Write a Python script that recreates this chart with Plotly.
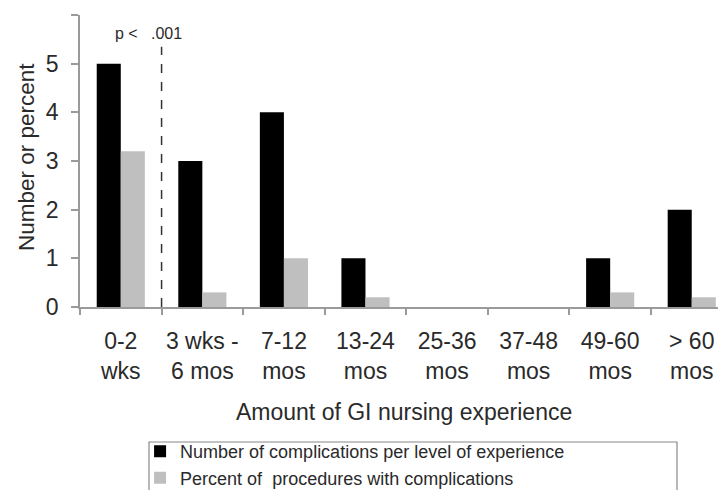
import plotly.graph_objects as go

categories = ["0-2<br>wks", "3 wks -<br>6 mos", "7-12<br>mos", "13-24<br>mos",
              "25-36<br>mos", "37-48<br>mos", "49-60<br>mos", "> 60<br>mos"]
complications = [5, 3, 4, 1, 0, 0, 1, 2]
percent_with_complications = [3.2, 0.3, 1.0, 0.2, 0, 0, 0.3, 0.2]
series_names = ["Number of complications per level of experience",
                "Percent of  procedures with complications"]
y_ticks = [0, 1, 2, 3, 4, 5, 6]

FONT = "Liberation Sans, Arial, sans-serif"
TXT = "#2a2a2a"
AX = "#9a9a9a"

# page body has an 8px default margin, so the figure is sized/offset to fill the window
fig = go.Figure()
fig.add_trace(go.Bar(x=categories, y=complications, name=series_names[0],
                     marker=dict(color="#000000", line=dict(width=0))))
fig.add_trace(go.Bar(x=categories, y=percent_with_complications, name=series_names[1],
                     marker=dict(color="#bfbfbf", line=dict(width=0))))

fig.update_layout(
    width=718, height=482,
    margin=dict(l=72, r=0, t=7, b=183, autoexpand=False),
    paper_bgcolor="white", plot_bgcolor="white",
    barmode="group", bargap=0.41, bargroupgap=0,
    font=dict(family=FONT, color=TXT),
    showlegend=True,
    legend=dict(x=0.093, y=-0.432, xanchor="left", yanchor="top",
                font=dict(size=18, color=TXT), bgcolor="rgba(0,0,0,0)",
                itemwidth=30, tracegroupgap=0, traceorder="normal"),
    xaxis=dict(type="category", range=[-0.5, 7.42], tickson="boundaries",
               showline=True, linecolor=AX, linewidth=1.5,
               ticks="outside", ticklen=6, tickcolor=AX, tickwidth=1.5,
               tickangle=0,
               tickfont=dict(size=23, color=TXT), showgrid=False, zeroline=False,
               ticklabelstandoff=13),
    yaxis=dict(range=[0, 6], tickvals=y_ticks, showline=True, linecolor=AX, linewidth=1.5,
               ticks="outside", ticklen=7, tickcolor=AX, tickwidth=1.5,
               tickfont=dict(size=23, color=TXT), showgrid=False, zeroline=False,
               ticklabelstandoff=8),
    shapes=[
        dict(type="line", xref="x", yref="y", x0=0.5, x1=0.5, y0=0, y1=5.35,
             line=dict(color="#333333", width=1.5, dash="dash")),
        dict(type="rect", xref="paper", yref="paper", x0=(149-80)/646, x1=(677-80)/646,
             y0=(307-442)/292, y1=(307-505)/292,
             line=dict(color="#888888", width=1.2), fillcolor="rgba(0,0,0,0)"),
    ],
    annotations=[
        dict(text="p <", xref="x", yref="y", x=0.076, y=5.61, showarrow=False,
             font=dict(size=16, color=TXT)),
        dict(text=".001", xref="x", yref="y", x=0.566, y=5.61, showarrow=False,
             font=dict(size=16, color=TXT)),
        dict(text="Number or percent", xref="paper", yref="paper",
             x=(27-80)/646, y=(307-157)/292, textangle=-90, showarrow=False,
             xanchor="center", yanchor="middle", font=dict(size=22.5, color=TXT)),
        dict(text="Amount of GI nursing experience", xref="paper", yref="paper",
             x=(404-80)/646, y=(307-412)/292, showarrow=False,
             xanchor="center", yanchor="middle", font=dict(size=23, color=TXT)),
    ],
)

fig.write_html("out.html")
